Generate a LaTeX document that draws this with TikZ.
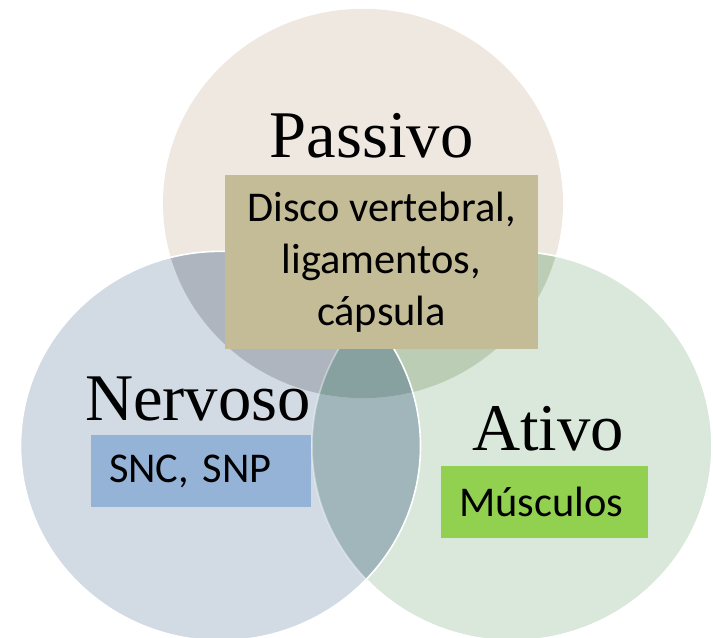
\documentclass[tikz,border=0pt]{standalone}
\usepackage{fontspec}
\setmainfont{Liberation Serif}
\newfontfamily\bodyfont{Carlito}
\usetikzlibrary{positioning}
\frenchspacing
\definecolor{passivofill}{RGB}{238,232,225}
\definecolor{nervosofill}{RGB}{210,218,228}
\definecolor{ativofill}{RGB}{217,232,219}
\definecolor{pnfill}{RGB}{174,181,190}
\definecolor{pafill}{RGB}{187,206,181}
\definecolor{nafill}{RGB}{160,182,186}
\definecolor{pnafill}{RGB}{135,160,160}
\definecolor{passivobox}{RGB}{196,188,151}
\definecolor{nervosobox}{RGB}{149,179,215}
\definecolor{ativobox}{RGB}{146,208,80}
\tikzset{
  title/.style={
    inner sep=0pt,
    font=\fontsize{50}{60}\selectfont
  },
  block/.style={
    rectangle,
    inner sep=0pt,
    minimum height=54pt,
    align=center,
    font=\bodyfont\fontsize{31.8}{38.8}\selectfont
  },
  tag/.style={
    block,
    align=left,
    inner xsep=13.5pt
  },
  ring/.style={white,line width=1.2pt}
}
\begin{document}
\begin{tikzpicture}[x=0.75pt,y=-0.75pt,x radius=150pt,y radius=146pt]

					\useasboundingbox (0,0) rectangle (713,638);

					\coordinate (passivo_c) at (363,203.5);
					\coordinate (nervoso_c) at (220.5,446);
					\coordinate (ativo_c) at (512,446);

					% discs
					\fill[passivofill] (passivo_c) ellipse [];
					\fill[ativofill] (ativo_c) ellipse [];
					\fill[nervosofill] (nervoso_c) ellipse [];

					% overlaps
					\begin{scope}
						\clip (nervoso_c) ellipse [];
						\fill[nafill] (ativo_c) ellipse [];
					\end{scope}
					\begin{scope}
						\clip (passivo_c) ellipse [];
						\fill[pnfill] (nervoso_c) ellipse [];
						\fill[pafill] (ativo_c) ellipse [];
						\clip (nervoso_c) ellipse [];
						\fill[pnafill] (ativo_c) ellipse [];
					\end{scope}

					% edges
					\draw[ring, draw opacity=.4] (ativo_c) ellipse [];
					\draw[ring] ([shift={(-136.9:150pt and 146pt)}]ativo_c) arc [start angle=-136.9, end angle=136.9];
					\draw[ring] (nervoso_c) ellipse [];

					% passivo
					\node[block, minimum width=234.75pt, minimum height=130.5pt, fill=passivobox] (passivo_box) at (381.5,262) {Disco vertebral,\\ligamentos,\\cápsula};
					\node[title, above=12pt of passivo_box, xshift=-7.5pt] (passivo) {Passivo};

					% nervoso
					\node[tag, text width=138pt, fill=nervosobox] (nervoso_box) at (201,471) {SNC, SNP};
					\node[title, above=9.75pt of nervoso_box, xshift=-2.25pt] (nervoso) {Nervoso};

					% ativo
					\node[tag, text width=128.25pt, fill=ativobox] (ativo_box) at (544.5,502) {Músculos};
					\node[title, above=10.5pt of ativo_box, xshift=2.6pt] (ativo) {Ativo};

				\end{tikzpicture}
\end{document}
